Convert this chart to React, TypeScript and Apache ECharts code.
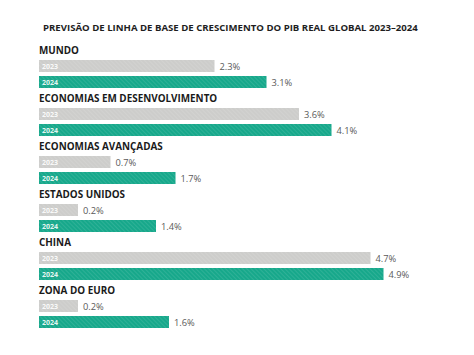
import React, { useEffect, useRef } from "react";
import * as echarts from "echarts";

const TITLE = "PREVISÃO DE LINHA DE BASE DE CRESCIMENTO DO PIB REAL GLOBAL 2023–2024";
const regions = [
  "MUNDO",
  "ECONOMIAS EM DESENVOLVIMENTO",
  "ECONOMIAS AVANÇADAS",
  "ESTADOS UNIDOS",
  "CHINA",
  "ZONA DO EURO",
];
const years = ["2023", "2024"];
const growth2023 = [2.3, 3.6, 0.7, 0.2, 4.7, 0.2];
const growth2024 = [3.1, 4.1, 1.7, 1.4, 4.9, 1.6];
// minimum visible stub of each bar (room for the year tag), in axis units
const STUB = 0.4;

const GREY = "#cdcdcb";
const GREEN = "#17a88b";

export default function App() {
  const ref = useRef<HTMLDivElement>(null);
  useEffect(() => {
    if (!ref.current) return;
    const chart = echarts.init(ref.current, null, { renderer: "svg" });

    const cats: string[] = [];
    const baseData: any[] = [];
    const valData: any[] = [];
    regions.forEach((r, i) => {
      cats.push(r);
      baseData.push("-");
      valData.push("-");
      const vals = [growth2023[i], growth2024[i]];
      years.forEach((y, j) => {
        cats.push(r + "|" + y);
        const color = j === 0 ? GREY : GREEN;
        baseData.push({ value: STUB, year: y, itemStyle: { color } });
        valData.push({ value: vals[j], itemStyle: { color } });
      });
    });

    const decal = {
      symbol: "rect",
      symbolSize: 1,
      dashArrayX: [1, 0],
      dashArrayY: [1, 2],
      rotation: Math.PI / 4,
      color: "rgba(255,255,255,0.1)",
    };

    chart.setOption({
      animation: false,
      title: {
        text: TITLE,
        left: 38,
        top: 17,
        textStyle: {
          fontFamily: "Open Sans",
          fontWeight: "bold",
          fontSize: 9.6,
          color: "#1e1e1e",
        },
      },
      grid: { left: 39, right: 45, top: 42, height: 288 },
      xAxis: {
        type: "value",
        min: 0,
        max: 6,
        show: false,
      },
      yAxis: {
        type: "category",
        inverse: true,
        data: cats,
        axisLine: { show: false },
        axisTick: { show: false },
        splitLine: { show: false },
        axisLabel: {
          inside: true,
          margin: 0,
          align: "left",
          fontFamily: "Open Sans",
          fontWeight: "bold",
          fontSize: 9.9,
          color: "#1a1a1a",
          formatter: (v: string) => (v.indexOf("|") >= 0 ? "" : v),
        },
      },
      series: [
        {
          type: "bar",
          name: "base",
          stack: "g",
          barWidth: 12,
          data: baseData,
          itemStyle: { decal },
          label: {
            show: true,
            position: "insideLeft",
            distance: 3,
            fontFamily: "Open Sans",
            fontWeight: "bold",
            fontSize: 7,
            color: "rgba(255,255,255,0.9)",
            formatter: (p: any) => (p.data && p.data.year) || "",
          },
        },
        {
          type: "bar",
          name: "value",
          stack: "g",
          barWidth: 12,
          data: valData,
          itemStyle: { decal },
          label: {
            show: true,
            position: "right",
            distance: 5,
            fontFamily: "Open Sans",
            fontSize: 9.3,
            color: "#5a5a5a",
            formatter: (p: any) => p.value + "%",
          },
        },
      ],
    });
    return () => chart.dispose();
  }, []);
  return (
    <div
      ref={ref}
      style={{ position: "fixed", left: 0, top: 0, width: 474, height: 355, background: "#fff" }}
    />
  );
}
